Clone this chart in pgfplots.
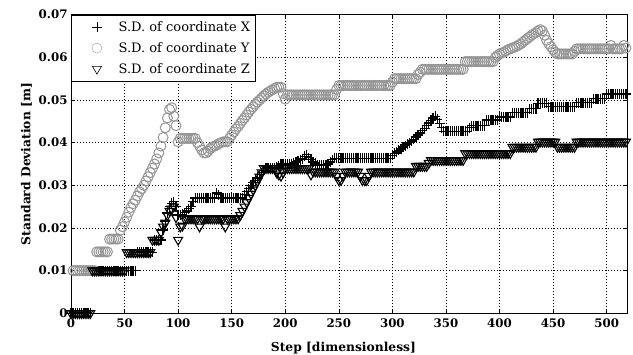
\documentclass[border=0pt]{standalone}
\usepackage{pgfplots}
\pgfplotsset{compat=1.18}
\usepackage{fontspec}
\setmainfont{DejaVu Serif}
\definecolor{cgray}{RGB}{150,150,150}
\pgfplotsset{
  legimg/.style={legend image code/.code={\path (-22pt,0pt) (19pt,0pt); \draw[##1,line width=0.6pt] plot coordinates {(0pt,0pt)};}},
  legimgg/.style={legend image code/.code={\path (-22pt,0pt) (19pt,0pt); \draw[##1,line width=0.6pt,color=cgray!70] plot coordinates {(0pt,0pt)};}},
}
\begin{document}
\begin{tikzpicture}
\begin{axis}[
  scale only axis,
  width=556pt, height=298.6pt,
  xmin=0, xmax=519, ymin=0, ymax=0.07,
  xtick={0,50,100,150,200,250,300,350,400,450,500},
  xticklabels={0,50,100,150,200,250,300,350,400,450,500},
  ytick={0,0.01,0.02,0.03,0.04,0.05,0.06,0.07},
  yticklabels={0,0.01,0.02,0.03,0.04,0.05,0.06,0.07},
  scaled y ticks=false,
  tick label style={font=\fontsize{11.8}{13}\selectfont\bfseries},
  xticklabel style={yshift=-2pt},
  label style={font=\fontsize{12.3}{14}\selectfont\bfseries},
  xlabel={Step [dimensionless]},
  ylabel={Standard Deviation [m]},
  xlabel style={at={(axis description cs:0.49,-0.1286)}, anchor=base},
  ylabel style={at={(axis description cs:-0.080,0.5)}, anchor=center},
  grid=major,
  major grid style={black, line width=0.5pt, dash pattern=on 0.8pt off 2.2pt},
  axis line style={black, line width=0.8pt},
  major tick length=4pt,
  tick style={black, line width=0.6pt},
  legend cell align=left,
  legend style={at={(0,1)}, anchor=north west, draw=black, line width=0.6pt,
    font=\fontsize{13}{15}\selectfont, row sep=5.5pt, inner xsep=3pt, inner ysep=4.5pt},
]
\addplot[only marks, mark=+, mark size=5pt, line width=1.3pt, black, legimg] coordinates {
(0,0)(2,0)(4,0)(6,0)(8,0)(10,0)(12,0)(14,0)(16,0)(18,0)
(20,0.010)(22,0.010)(24,0.010)(26,0.010)(28,0.010)(30,0.010)(32,0.010)(34,0.010)(36,0.010)(38,0.010)(40,0.010)(42,0.010)(44,0.010)(46,0.010)(48,0.010)(50,0.010)(52,0.010)(54,0.010)(56,0.010)(58,0.010)(60,0.010)
(62,0.0143)(64,0.0143)(66,0.0143)(68,0.0143)(70,0.0143)(72,0.0143)(74,0.0143)(76,0.0143)
(78,0.0172)(80,0.0172)(82,0.0172)(84,0.0172)(86,0.0195)(88,0.0215)(90,0.0235)(92,0.0250)(94,0.0258)(96,0.0262)(98,0.0250)(100,0.0230)(102,0.0230)(104,0.0232)(106,0.0236)(108,0.0240)(110,0.0245)(112,0.0250)(114,0.0262)
(116,0.0270)(118,0.0270)(120,0.0270)(122,0.0270)(124,0.0270)(126,0.0270)(128,0.0270)(130,0.0270)(132,0.0270)(134,0.0270)(136,0.0282)(138,0.0278)
(140,0.0270)(142,0.0270)(144,0.0270)(146,0.0270)(148,0.0270)(150,0.0270)(152,0.0270)(154,0.0270)(156,0.0270)(158,0.0270)(160,0.0270)
(162,0.0278)(164,0.0285)(166,0.0292)(168,0.0300)(170,0.0306)(172,0.0312)(174,0.0318)(176,0.0325)(178,0.0330)(180,0.0335)
(182,0.0340)(184,0.0340)(186,0.0340)(188,0.0340)(190,0.0340)(192,0.0342)(194,0.0345)
(196,0.0350)(198,0.0350)(200,0.0350)(202,0.0350)(204,0.0350)(206,0.0350)(208,0.0352)(210,0.0355)(212,0.0358)(214,0.0360)(216,0.0362)(218,0.0368)(220,0.0372)(222,0.0365)(224,0.0360)(226,0.0355)(228,0.0352)
(230,0.0348)(232,0.0348)(234,0.0348)(236,0.0348)(238,0.0348)(240,0.0350)(242,0.0355)(244,0.0360)
(246,0.0363)(248,0.0363)(250,0.0363)(252,0.0363)(254,0.0363)(256,0.0363)(258,0.0363)(260,0.0363)(262,0.0363)(264,0.0363)(266,0.0363)(268,0.0363)(270,0.0363)(272,0.0363)
(274,0.0363)(276,0.0363)(278,0.0363)(280,0.0363)(282,0.0363)(284,0.0363)(286,0.0363)(288,0.0363)(290,0.0363)(292,0.0363)(294,0.0363)(296,0.0363)(298,0.0363)
(300,0.0370)(302,0.0375)(304,0.0378)(306,0.0382)(308,0.0385)(310,0.0390)(312,0.0393)(314,0.0397)(316,0.0400)(318,0.0404)(320,0.0408)(322,0.0413)(324,0.0418)
(326,0.0423)(328,0.0428)(330,0.0434)(332,0.0440)(334,0.0446)(336,0.0452)(338,0.0458)(340,0.0462)(342,0.0455)(344,0.0445)(346,0.0435)
(348,0.0427)(350,0.0427)(352,0.0427)(354,0.0427)(356,0.0427)(358,0.0427)(360,0.0427)(362,0.0427)(364,0.0427)(366,0.0427)(368,0.0427)(370,0.0427)
(372,0.0435)(374,0.0440)(376,0.0440)(378,0.0440)(380,0.0440)(382,0.0440)(384,0.0440)(386,0.0440)
(388,0.0453)(390,0.0453)(392,0.0453)(394,0.0453)(396,0.0453)(398,0.0453)
(400,0.0460)(402,0.0460)(404,0.0460)(406,0.0460)(408,0.0460)(410,0.0460)
(412,0.0470)(414,0.0470)(416,0.0470)(418,0.0470)(420,0.0470)(422,0.0470)(424,0.0470)(426,0.0470)
(428,0.0480)(430,0.0480)(432,0.0480)(434,0.0480)
(436,0.0492)(438,0.0492)(440,0.0492)(442,0.0492)(444,0.0492)
(446,0.0484)(448,0.0484)(450,0.0484)(452,0.0484)(454,0.0484)(456,0.0484)(458,0.0484)(460,0.0484)(462,0.0484)(464,0.0484)(466,0.0484)(468,0.0484)(470,0.0484)
(472,0.0494)(474,0.0494)(476,0.0494)(478,0.0494)(480,0.0494)(482,0.0494)(484,0.0494)(486,0.0494)
(488,0.0503)(490,0.0503)(492,0.0503)(494,0.0503)(496,0.0503)(498,0.0503)
(500,0.0514)(502,0.0514)(504,0.0514)(506,0.0514)(508,0.0514)(510,0.0514)(512,0.0514)(514,0.0514)(516,0.0514)(518,0.0514)
};
\addlegendentry{S.D. of coordinate X}
\addplot[only marks, mark=o, mark size=5pt, line width=1pt, cgray, legimgg] coordinates {
(2,0.010)(4,0.010)(6,0.010)(8,0.010)(10,0.010)(12,0.010)(14,0.010)(16,0.010)(18,0.010)(20,0.010)(22,0.010)
(24,0.0144)(26,0.0144)(28,0.0144)(30,0.0144)(32,0.0144)(34,0.0144)
(36,0.0174)(38,0.0174)(40,0.0174)(42,0.0174)(44,0.0174)
(46,0.0195)(48,0.0203)(50,0.0214)(52,0.0225)(54,0.0237)(56,0.0248)(58,0.0257)(60,0.0265)(62,0.0275)(64,0.0285)(66,0.0292)(68,0.0300)(70,0.0310)
(72,0.0320)(74,0.0330)(76,0.0340)(78,0.0350)(80,0.0362)(82,0.0376)(84,0.0392)(86,0.0412)(88,0.0435)(90,0.0458)(92,0.0478)(94,0.0482)(96,0.0462)(98,0.0440)(100,0.0402)
(102,0.0410)(104,0.0410)(106,0.0410)(108,0.0410)(110,0.0410)(112,0.0410)(114,0.0410)(116,0.0410)
(118,0.0400)(120,0.0392)(122,0.0383)(124,0.0376)(126,0.0376)(128,0.0380)(130,0.0386)(132,0.0390)(134,0.0392)(136,0.0394)(138,0.0398)(140,0.0400)
(142,0.0402)(144,0.0402)(146,0.0402)(148,0.0410)(150,0.0418)(152,0.0425)(154,0.0432)(156,0.0438)(158,0.0445)(160,0.0452)(162,0.0458)(164,0.0465)
(166,0.0472)(168,0.0478)(170,0.0484)(172,0.0490)(174,0.0495)(176,0.0500)(178,0.0505)(180,0.0510)(182,0.0514)(184,0.0518)(186,0.0521)(188,0.0524)
(190,0.0527)(192,0.0530)(194,0.0530)(196,0.0530)(198,0.0515)(200,0.0502)
(202,0.0512)(204,0.0512)(206,0.0512)(208,0.0512)(210,0.0512)(212,0.0512)(214,0.0512)(216,0.0512)(218,0.0512)(220,0.0512)(222,0.0512)(224,0.0512)
(226,0.0512)(228,0.0512)(230,0.0512)(232,0.0512)(234,0.0512)(236,0.0512)(238,0.0512)(240,0.0512)(242,0.0512)(244,0.0512)(246,0.0512)(248,0.0525)
(250,0.0534)(252,0.0534)(254,0.0534)(256,0.0534)(258,0.0534)(260,0.0534)(262,0.0534)(264,0.0534)(266,0.0534)(268,0.0534)(270,0.0534)(272,0.0534)
(274,0.0534)(276,0.0534)(278,0.0534)(280,0.0534)(282,0.0534)(284,0.0534)(286,0.0534)(288,0.0534)(290,0.0534)(292,0.0534)(294,0.0534)(296,0.0534)(298,0.0534)
(300,0.0542)(302,0.0550)(304,0.0550)(306,0.0550)(308,0.0550)(310,0.0550)(312,0.0550)(314,0.0550)(316,0.0550)(318,0.0550)(320,0.0550)(322,0.0550)
(324,0.0560)(326,0.0565)(328,0.0572)(330,0.0572)(332,0.0572)(334,0.0572)(336,0.0572)(338,0.0572)(340,0.0572)(342,0.0572)(344,0.0572)(346,0.0572)
(348,0.0572)(350,0.0572)(352,0.0572)(354,0.0572)(356,0.0572)(358,0.0572)(360,0.0572)(362,0.0572)(364,0.0572)(366,0.0572)
(368,0.0590)(370,0.0590)(372,0.0590)(374,0.0590)(376,0.0590)(378,0.0590)(380,0.0590)(382,0.0590)(384,0.0590)(386,0.0590)(388,0.0590)(390,0.0590)(392,0.0590)(394,0.0590)
(396,0.0600)(398,0.0604)(400,0.0608)(402,0.0610)(404,0.0612)(406,0.0615)(408,0.0618)(410,0.0620)(412,0.0622)(414,0.0624)(416,0.0626)(418,0.0629)
(420,0.0632)(422,0.0636)(424,0.0640)(426,0.0644)(428,0.0648)(430,0.0652)(432,0.0655)(434,0.0658)(436,0.0662)(438,0.0665)(440,0.0662)(442,0.0652)
(444,0.0640)(446,0.0632)(448,0.0625)(450,0.0618)(452,0.0612)
(454,0.0608)(456,0.0608)(458,0.0608)(460,0.0608)(462,0.0608)(464,0.0608)(466,0.0608)(468,0.0608)(470,0.0614)
(472,0.0620)(474,0.0620)(476,0.0620)(478,0.0620)(480,0.0620)(482,0.0620)(484,0.0620)(486,0.0620)(488,0.0620)(490,0.0620)(492,0.0620)(494,0.0620)
(496,0.0620)(498,0.0620)(500,0.0620)(502,0.0620)(504,0.0628)(506,0.0620)(508,0.0620)(510,0.0620)(512,0.0620)(514,0.0620)(516,0.0628)(518,0.0622)
};
\addlegendentry{S.D. of coordinate Y}
\addplot[only marks, mark=triangle, mark options={rotate=180}, mark size=5.2pt, line width=1.1pt, black, legimg] coordinates {
(0,0)(2,0)(4,0)(6,0)(8,0)(10,0)(12,0)(14,0)(16,0)(18,0)
(20,0.010)(22,0.010)(24,0.010)(26,0.010)(28,0.010)(30,0.010)(32,0.010)(34,0.010)(36,0.010)(38,0.010)(40,0.010)(42,0.010)(44,0.010)(46,0.010)(48,0.010)(50,0.010)
(52,0.0143)(54,0.0143)(56,0.0143)(58,0.0143)(60,0.0143)(62,0.0143)(64,0.0143)(66,0.0143)(68,0.0143)(70,0.0143)(72,0.0143)(74,0.0143)
(76,0.0172)(78,0.0172)(80,0.0172)(82,0.0172)(84,0.0190)(86,0.0203)(88,0.0212)(90,0.0230)(92,0.0240)(94,0.0245)(96,0.0250)(98,0.0225)(100,0.0172)
(102,0.0203)(104,0.0205)(106,0.0222)(108,0.0222)(110,0.0222)(112,0.0222)(114,0.0222)(116,0.0222)(118,0.0222)(120,0.0203)
(122,0.0222)(124,0.0222)(126,0.0222)(128,0.0222)(130,0.0222)(132,0.0222)(134,0.0222)(136,0.0222)(138,0.0222)(140,0.0222)(142,0.0222)(144,0.0203)
(146,0.0222)(148,0.0222)(150,0.0222)(152,0.0222)(154,0.0222)(156,0.0222)(158,0.0230)(160,0.0240)(162,0.0250)(164,0.0260)(166,0.0270)(168,0.0280)
(170,0.0290)(172,0.0300)(174,0.0310)(176,0.0320)(178,0.0330)(180,0.0340)(182,0.0340)(184,0.0340)(186,0.0340)(188,0.0340)(190,0.0340)
(192,0.0330)(194,0.0325)(196,0.0322)(198,0.0330)(200,0.0340)(202,0.0340)(204,0.0340)(206,0.0340)(208,0.0340)(210,0.0340)(212,0.0340)(214,0.0340)
(216,0.0340)(218,0.0340)(220,0.0340)(222,0.0340)(224,0.0325)(226,0.0332)(228,0.0332)(230,0.0332)(232,0.0332)(234,0.0332)(236,0.0332)(238,0.0332)
(240,0.0332)(242,0.0332)(244,0.0332)(246,0.0332)(248,0.0322)(250,0.0312)(252,0.0312)(254,0.0322)(256,0.0332)(258,0.0332)(260,0.0332)(262,0.0332)
(264,0.0332)(266,0.0332)(268,0.0332)(270,0.0322)(272,0.0312)(274,0.0312)(276,0.0312)(278,0.0322)(280,0.0332)(282,0.0332)(284,0.0332)(286,0.0332)
(288,0.0332)(290,0.0332)(292,0.0332)(294,0.0332)(296,0.0332)(298,0.0332)(300,0.0332)(302,0.0332)(304,0.0332)(306,0.0332)(308,0.0332)(310,0.0332)
(312,0.0332)(314,0.0332)(316,0.0332)(318,0.0332)(320,0.0332)(322,0.0345)(324,0.0345)(326,0.0345)(328,0.0345)(330,0.0345)(332,0.0345)(334,0.0352)
(336,0.0359)(338,0.0359)(340,0.0359)(342,0.0359)(344,0.0359)(346,0.0359)(348,0.0359)(350,0.0359)(352,0.0359)(354,0.0359)(356,0.0359)(358,0.0359)
(360,0.0359)(362,0.0359)(364,0.0359)(366,0.0359)
(368,0.0375)(370,0.0375)(372,0.0375)(374,0.0375)(376,0.0375)(378,0.0375)(380,0.0375)(382,0.0375)(384,0.0375)(386,0.0375)(388,0.0375)(390,0.0375)
(392,0.0375)(394,0.0375)(396,0.0375)(398,0.0375)(400,0.0375)(402,0.0375)(404,0.0375)(406,0.0375)(408,0.0375)(410,0.0375)
(412,0.0390)(414,0.0390)(416,0.0390)(418,0.0390)(420,0.0390)(422,0.0390)(424,0.0390)(426,0.0390)(428,0.0390)(430,0.0390)(432,0.0390)(434,0.0390)
(436,0.0402)(438,0.0402)(440,0.0402)(442,0.0402)(444,0.0402)(446,0.0402)(448,0.0402)(450,0.0402)(452,0.0402)
(454,0.0390)(456,0.0390)(458,0.0390)(460,0.0390)(462,0.0390)(464,0.0390)(466,0.0390)(468,0.0390)(470,0.0390)
(472,0.0402)(474,0.0402)(476,0.0402)(478,0.0402)(480,0.0402)(482,0.0402)(484,0.0402)(486,0.0402)(488,0.0402)(490,0.0402)(492,0.0402)(494,0.0402)
(496,0.0402)(498,0.0402)(500,0.0402)(502,0.0402)(504,0.0402)(506,0.0402)(508,0.0402)(510,0.0402)(512,0.0402)(514,0.0402)(516,0.0402)(518,0.0402)
};
\addlegendentry{S.D. of coordinate Z}
\end{axis}
\pgfresetboundingbox
\path[use as bounding box] (-71pt,-41.7pt) rectangle (562pt,313.3pt);
\end{tikzpicture}
\end{document}
